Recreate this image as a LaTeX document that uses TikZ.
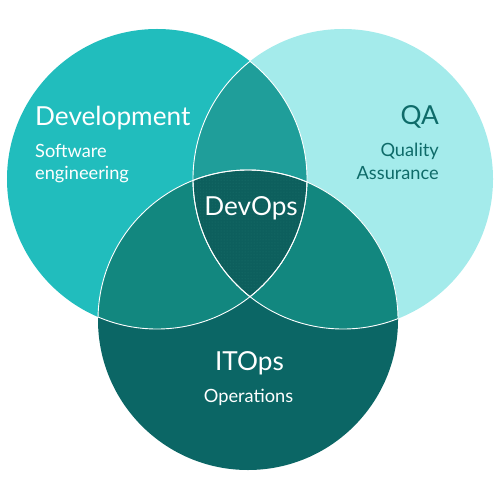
\documentclass[tikz,border=0pt]{standalone}
\usepackage{fontspec}
\setmainfont{Lato}
\usetikzlibrary{patterns}
\definecolor{devc}{HTML}{21BDBD}
\definecolor{qac}{HTML}{A4EBEB}
\definecolor{devqa}{HTML}{1F9E9A}
\definecolor{itc}{HTML}{0B6665}
\definecolor{pair}{HTML}{12877F}
\definecolor{core}{HTML}{0D5F5D}
\definecolor{dotc}{HTML}{1B716D}
\definecolor{qatext}{HTML}{0E6B69}
\tikzset{
  big/.style={inner sep=0pt, font=\fontsize{26.3}{30}\selectfont},
  small/.style={inner sep=0pt, font=\fontsize{18.3}{22}\selectfont, align=left},
  seam/.style={draw=white, line width=0.9bp}
}
\begin{document}
\begin{tikzpicture}[x=1bp,y=-1bp]
\useasboundingbox (0,0) rectangle (500,500);
\def\devpath{(157,179) circle (150bp)}
\def\qapath{(343,179) circle (150bp)}
\def\itpath{(248,320) circle (150bp)}
% base fills
\fill[devc] \devpath;
\fill[qac] \qapath;
\fill[itc] \itpath;
% pairwise
\begin{scope}\clip \devpath; \fill[devqa] \qapath; \end{scope}
\begin{scope}\clip \devpath; \fill[pair] \itpath; \end{scope}
\begin{scope}\clip \qapath; \fill[pair] \itpath; \end{scope}
% core
\begin{scope}\clip \devpath; \clip \qapath;
  \fill[core] \itpath;
  \fill[pattern=dots, pattern color=dotc] \itpath;
\end{scope}
% white seams
\begin{scope}\clip \devpath; \draw[seam] \qapath; \draw[seam] \itpath; \end{scope}
\begin{scope}\clip \qapath; \draw[seam] \devpath; \draw[seam] \itpath; \end{scope}
\begin{scope}\clip \itpath; \draw[seam] \devpath; \draw[seam] \qapath; \end{scope}
% labels
\node[big, white, anchor=base west] (dev) at (35,126) {Development};
\node[small, white, anchor=base west] (devs) at (35,158) {Software};
\node[small, white, anchor=base west] (devs2) at (35,180) {engineering};
\node[big, qatext, anchor=base east] (qa) at (439,125) {QA};
\node[small, qatext, anchor=base east] (qas) at (439,157) {Quality};
\node[small, qatext, anchor=base east] (qas2) at (439,180) {Assurance};
\node[big, white, anchor=base] (devops) at (251,215) {DevOps};
\node[big, white, anchor=base] (itops) at (249.5,370) {ITOps};
\node[small, white, anchor=base] (its) at (248.5,402) {Operations};
\end{tikzpicture}
\end{document}
